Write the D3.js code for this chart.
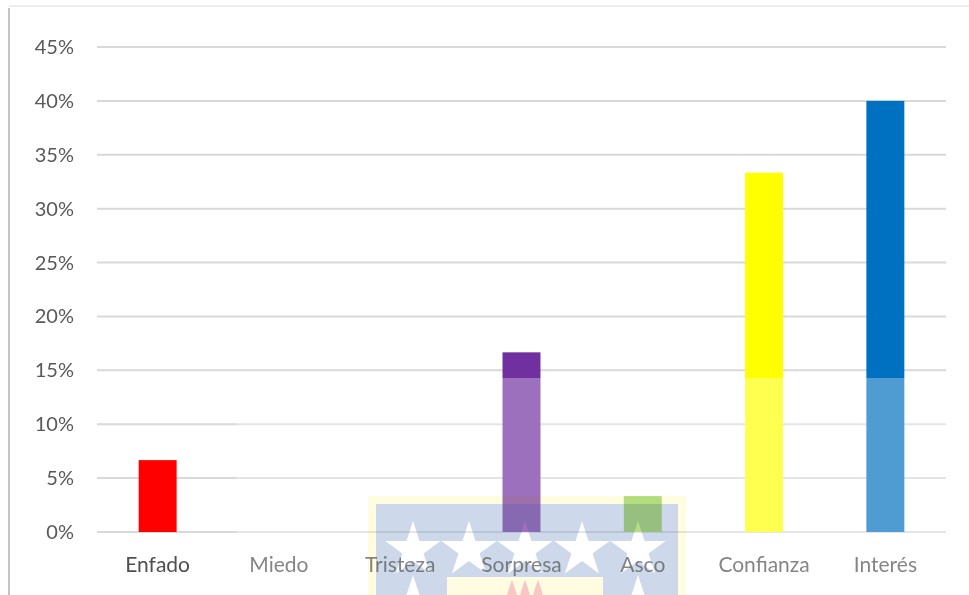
<!DOCTYPE html>
<html>
<head>
<meta charset="utf-8">
<script src="https://cdn.jsdelivr.net/npm/d3@7"></script>
<style>
  body { margin: 0; background: #fff; }
  svg { display: block; font-family: 'Lato', 'Open Sans', sans-serif; }
  .tick-label { fill: #595959; font-size: 20px; }
  .cat-label { fill: #4f4f4f; font-size: 21px; }
  .logo { mix-blend-mode: multiply; }
</style>
</head>
<body>
<div id="chart"></div>
<script>
const categories = ['Enfado', 'Miedo', 'Tristeza', 'Sorpresa', 'Asco', 'Confianza', 'Interés'];
const values = [0.0667, 0, 0, 0.1667, 0.0333, 0.3333, 0.40];
const barColours = ['#FF0000', '#C00000', '#7F7F7F', '#7030A0', '#92D050', '#FFFF00', '#0070C0'];
const yTicks = [0, 0.05, 0.10, 0.15, 0.20, 0.25, 0.30, 0.35, 0.40, 0.45];

const width = 969, height = 595;
const margin = {top: 47, right: 23, bottom: 63, left: 97};

const svg = d3.select('#chart').append('svg')
  .attr('width', width)
  .attr('height', height);

// chart frame (faint border top/left)
svg.append('line')
  .attr('x1', 9).attr('x2', 9).attr('y1', 8).attr('y2', height)
  .attr('stroke', '#c4c4c4').attr('stroke-width', 2);
svg.append('line')
  .attr('x1', 9).attr('x2', width).attr('y1', 6).attr('y2', 6)
  .attr('stroke', '#ededed').attr('stroke-width', 2);

// scales
const x = d3.scaleBand()
  .domain(categories)
  .range([margin.left, width - margin.right])
  .paddingInner(0.687)
  .paddingOuter(0.3435);

const y = d3.scaleLinear()
  .domain([0, 0.45])
  .range([height - margin.bottom, margin.top]);

// gridlines
svg.append('g')
  .attr('class', 'grid')
  .selectAll('line')
  .data(yTicks)
  .enter().append('line')
    .attr('x1', margin.left)
    .attr('x2', width - margin.right)
    .attr('y1', d => y(d))
    .attr('y2', d => y(d))
    .attr('stroke', '#d9d9d9')
    .attr('stroke-width', 2);

// y tick labels
svg.append('g')
  .selectAll('text')
  .data(yTicks)
  .enter().append('text')
    .attr('class', 'tick-label')
    .attr('x', 74)
    .attr('y', d => y(d))
    .attr('dy', '0.35em')
    .attr('text-anchor', 'end')
    .text(d => d3.format('.0%')(d));

// bars
svg.append('g')
  .selectAll('rect')
  .data(categories)
  .enter().append('rect')
    .attr('x', d => x(d))
    .attr('width', x.bandwidth())
    .attr('y', (d, i) => y(values[i]))
    .attr('height', (d, i) => y(0) - y(values[i]))
    .attr('fill', (d, i) => barColours[i]);

// category labels
svg.append('g')
  .selectAll('text')
  .data(categories)
  .enter().append('text')
    .attr('class', 'cat-label')
    .attr('x', d => x(d) + x.bandwidth() / 2)
    .attr('y', y(0) + 33)
    .attr('dy', '0.35em')
    .attr('text-anchor', 'middle')
    .text(d => d);

// watermark logo, multiplied over the chart (stars = untinted)
const logo = svg.append('g').attr('class', 'logo');
logo.append('rect')
  .attr('x', 368).attr('y', 496).attr('width', 318).attr('height', 120)
  .attr('fill', '#fffbd2');
logo.append('rect')
  .attr('x', 376).attr('y', 504).attr('width', 302).attr('height', 110)
  .attr('fill', '#b7c9e2');
logo.append('rect')
  .attr('x', 447).attr('y', 577).attr('width', 156).attr('height', 30)
  .attr('fill', '#fffbd6');

const star = d3.symbol().type(d3.symbolStar).size(950);
const starPos = [[413, 550], [469, 550], [525, 550], [582, 550], [638, 550], [413, 604], [638, 604]];
logo.append('g')
  .selectAll('path')
  .data(starPos)
  .enter().append('path')
    .attr('d', star)
    .attr('transform', d => `translate(${d[0]},${d[1]})`)
    .attr('fill', '#fff');

// faint flames in the inner box
logo.append('g')
  .selectAll('path')
  .data([512, 525, 538])
  .enter().append('path')
    .attr('d', d => `M${d - 6},600 Q${d - 4},590 ${d},580 Q${d + 4},590 ${d + 6},600 Z`)
    .attr('fill', '#f4b0a8');

// faded white veil over lower part
svg.append('rect')
  .attr('x', 237).attr('y', 378)
  .attr('width', width - 237).attr('height', height - 378)
  .attr('fill', '#fff').attr('opacity', 0.31);
</script>
</body>
</html>
